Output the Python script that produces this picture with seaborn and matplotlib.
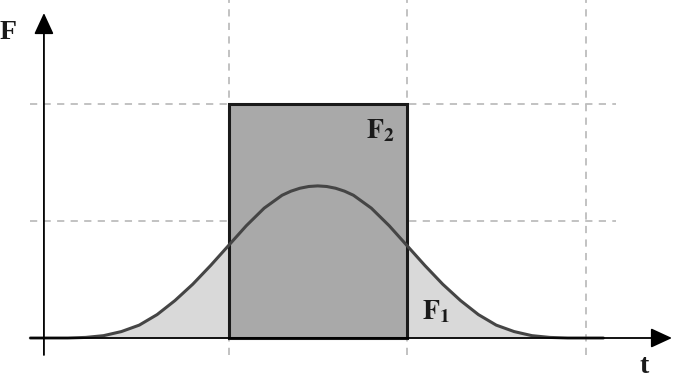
import numpy as np
import pandas as pd
import matplotlib
matplotlib.use("Agg")
import matplotlib.pyplot as plt
import seaborn as sns

# ---- data ----
curve_t = [-0.11, 0.1, 0.2, 0.3, 0.4, 0.5, 0.6, 0.7, 0.8, 0.9, 1.0, 1.1, 1.2, 1.3, 1.35,
           1.4, 1.45, 1.5, 1.55, 1.6, 1.65, 1.7, 1.8, 1.9, 2.0, 2.1, 2.2, 2.3, 2.4, 2.5,
           2.6, 2.7, 2.8, 2.9, 3.1]
curve_F = [0.0, 0.0, 0.005, 0.02, 0.055, 0.11, 0.20, 0.32, 0.46, 0.62, 0.79, 0.96, 1.11,
           1.22, 1.255, 1.28, 1.295, 1.30, 1.295, 1.28, 1.255, 1.22, 1.11, 0.96, 0.79,
           0.62, 0.46, 0.32, 0.20, 0.11, 0.055, 0.02, 0.005, 0.0, 0.0]
rect_t = [1.0, 2.0]
rect_F = 2.0
grid_t = [1, 2, 3]
grid_F = [1, 2]
labels = {"F": "F", "t": "t", "F1": r"$\mathbf{F}_{\mathbf{1}}$", "F2": r"$\mathbf{F}_{\mathbf{2}}$"}

sns.set_style("white")
plt.rcParams["mathtext.fontset"] = "stix"
plt.rcParams["font.family"] = ["Liberation Serif", "DejaVu Serif"]

fig = plt.figure(figsize=(6.74, 3.88), dpi=100)
ax = fig.add_axes([0, 0, 1, 1])
ax.set_xlim(-50 / 178.5, 624 / 178.5)
ax.set_ylim((338 - 388) / 117, 338 / 117)
ax.axis("off")

grid_kw = dict(color="#bdbdbd", lw=1.3, ls=(0, (4, 3.5)), zorder=0)
for g in grid_t:
    ax.plot([g, g], [-0.145, 2.9], **grid_kw)
for g in grid_F:
    ax.plot([-0.11, 3.17], [g, g], **grid_kw)

df = pd.DataFrame({"t": curve_t, "F": curve_F})
ax.fill_between(df["t"], df["F"], 0, color="#d9d9d9", lw=0, zorder=1)

ax.bar((rect_t[0] + rect_t[1]) / 2, rect_F, width=rect_t[1] - rect_t[0],
       color="#a9a9a9", edgecolor="#1a1a1a", linewidth=2.2, zorder=2)

sns.lineplot(data=df, x="t", y="F", ax=ax, color="#454545", lw=2.2, zorder=3,
             sort=False, estimator=None)

arrow_kw = dict(arrowstyle="-|>,head_length=0.65,head_width=0.3", color="black",
                lw=1.3, shrinkA=0, shrinkB=0, mutation_scale=20)
ax.annotate("", xy=(-0.034, (338 - 13) / 117), xytext=(-0.034, -0.145),
            arrowprops=arrow_kw, zorder=4)
ax.annotate("", xy=((672 - 50) / 178.5, 0), xytext=(-0.11, 0),
            arrowprops=arrow_kw, zorder=4)

txt = dict(fontsize=20, fontweight="bold", color="#1a1a1a", ha="center", va="center", zorder=5)
ax.text(-0.235, 2.607, labels["F"], **txt)
ax.text(3.328, -0.24, labels["t"], **txt)
ax.text(1.85, 1.77, labels["F2"], **txt)
ax.text(2.165, 0.222, labels["F1"], **txt)

fig.savefig("out.png", dpi=100)
